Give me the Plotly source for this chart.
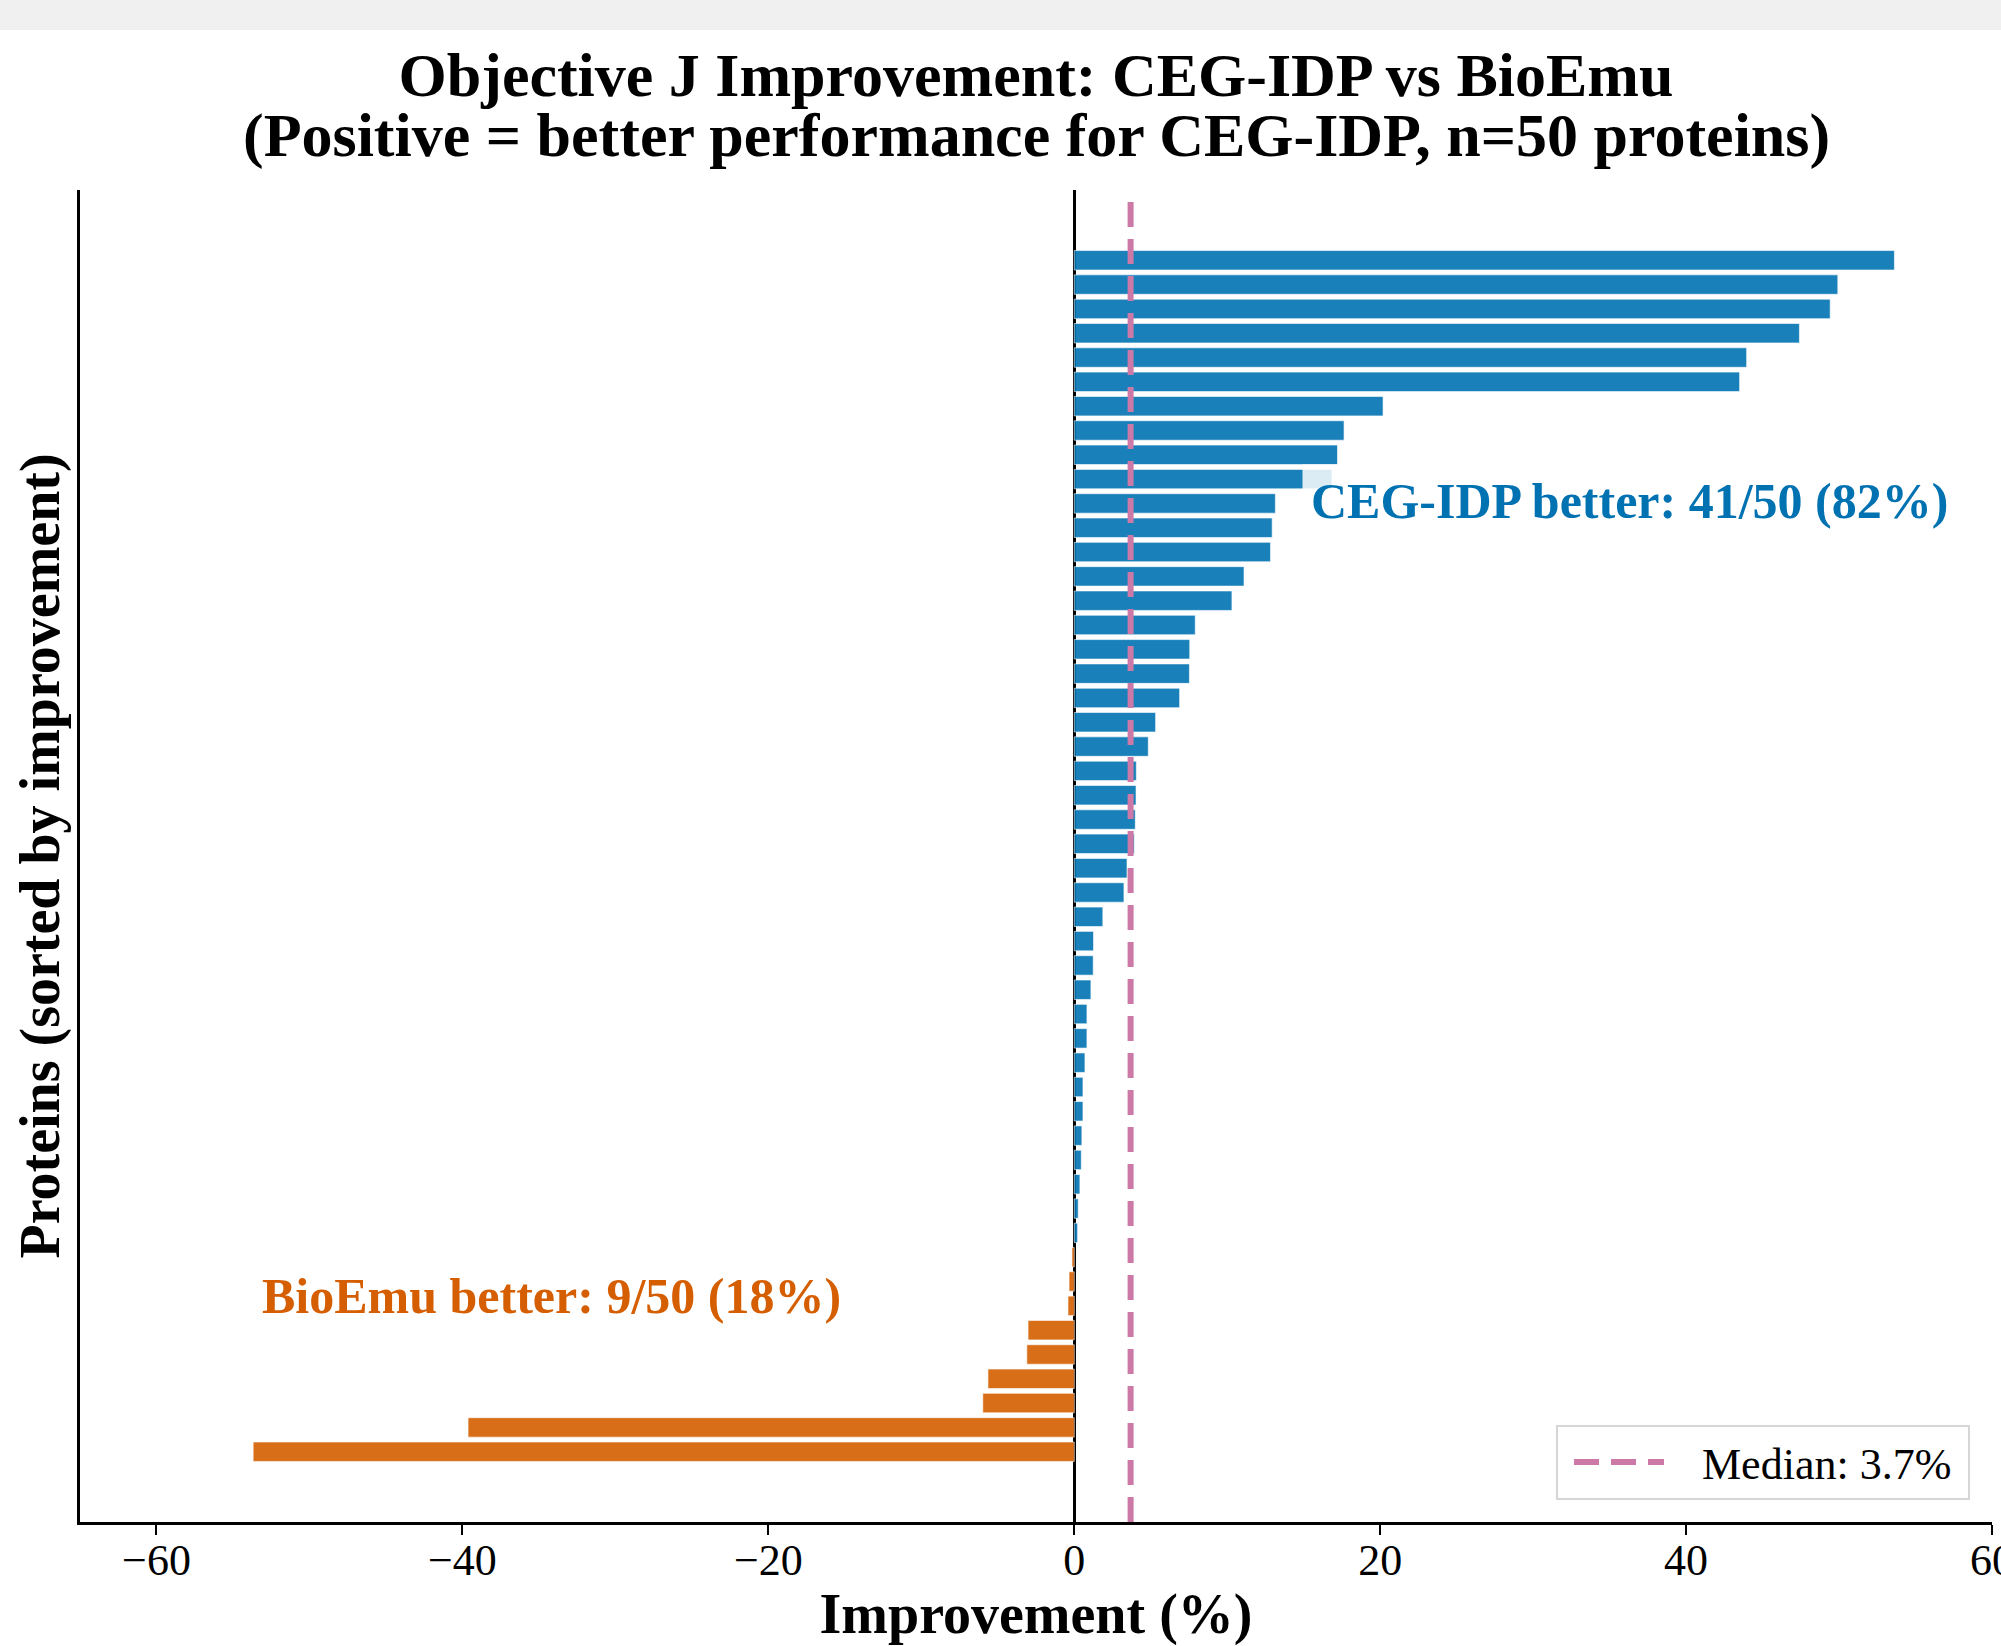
import numpy as np
import plotly.graph_objects as go

# ---- data (sorted ascending: bottom bar -> top bar) ----
negative_values = [-53.68, -39.63, -5.98, -5.64, -3.10, -3.02, -0.41, -0.34, -0.15]
positive_values = [0.22, 0.26, 0.37, 0.46, 0.50, 0.57, 0.57, 0.70, 0.83, 0.83,
                   1.09, 1.24, 1.26, 1.87, 3.25, 3.45, 3.92, 3.99, 4.04, 4.06,
                   4.84, 5.32, 6.89, 7.53, 7.55, 7.91, 10.31, 11.10, 12.83, 12.94,
                   13.15, 16.85, 17.21, 17.64, 20.19, 43.50, 43.96, 47.41, 49.42, 49.92,
                   53.62]
x_ticks = [-60, -40, -20, 0, 20, 40, 60]

title_line1 = "Objective J Improvement: CEG-IDP vs BioEmu"
title_line2 = "(Positive = better performance for CEG-IDP, n={n} proteins)"
x_label = "Improvement (%)"
y_label = "Proteins (sorted by improvement)"

BLUE = "#0072B2"
ORANGE = "#D55E00"
PINK = "#CC79A7"
FONT = "Liberation Serif"

values = np.array(negative_values + positive_values)
n = len(values)
positions = np.arange(n)
n_pos = int((values > 0).sum())
n_neg = int((values < 0).sum())
median = float(np.median(values))
bar_colors = ["rgba(0,114,178,0.9)" if v > 0 else "rgba(213,94,0,0.9)" for v in values]

span = (n - 1) + 0.8
y_lo = -0.4 - 0.05 * span
y_hi = (n - 1) + 0.4 + 0.05 * span

W, H = 2001, 1646
L, R, T, B = 80, 9, 190, 124
plot_h = H - T - B

NB = "\u00a0"

fig = go.Figure()
fig.add_trace(go.Bar(
    x=values, y=positions, orientation="h", width=0.8,
    marker=dict(color=bar_colors, line=dict(color="rgba(255,255,255,0.6)", width=1)),
    showlegend=False, hoverinfo="x",
))
fig.add_trace(go.Scatter(
    x=[median, median], y=[y_lo, y_hi], mode="lines",
    line=dict(color=PINK, width=6, dash="25px,12px"),
    name=NB * 3 + f"Median: {median:.1f}%" + NB,
))

def py(p):
    return (H - B - p) / plot_h

annotations = [
    dict(text=f"<b>{title_line2.format(n=n)}</b>", xref="paper", yref="paper",
         x=0.5, y=py(136), xanchor="center", yanchor="middle", showarrow=False,
         font=dict(family=FONT, size=62, color="black")),
    dict(text=f"<b>CEG-IDP better: {n_pos}/{n} ({100*n_pos/n:.0f}%)</b>", xref="x", yref="y",
         x=14.89, y=39.1, xanchor="left", yanchor="middle", showarrow=False,
         font=dict(family=FONT, size=50, color=BLUE),
         bgcolor="rgba(255,255,255,0.85)", borderpad=8),
    dict(text=f"<b>BioEmu better: {n_neg}/{n} ({100*n_neg/n:.0f}%)</b>", xref="x", yref="y",
         x=-53.69, y=6.4, xanchor="left", yanchor="middle", showarrow=False,
         font=dict(family=FONT, size=50, color=ORANGE),
         bgcolor="rgba(255,255,255,0.85)", borderpad=8),
]

shapes = [
    dict(type="rect", xref="paper", yref="paper", x0=-0.1, x1=1.1,
         y0=py(30), y1=py(-5), fillcolor="#f0f0f0", line=dict(width=0), layer="above"),
]

fig.update_layout(
    width=W, height=H,
    margin=dict(l=L, r=R, t=T, b=B, autoexpand=False),
    paper_bgcolor="white", plot_bgcolor="white",
    font=dict(family=FONT, color="black"),
    title=dict(text=f"<b>{title_line1}</b>", x=0.5, xref="paper",
               xanchor="center", yref="container", y=1 - 74 / H, yanchor="middle",
               font=dict(family=FONT, size=62, color="black")),
    bargap=0.2,
    annotations=annotations,
    shapes=shapes,
    showlegend=True,
    legend=dict(x=1 - 22 / (W - L - R), xanchor="right", y=22 / plot_h, yanchor="bottom",
                bgcolor="white", bordercolor="#d6d6d6", borderwidth=2, indentation=11,
                font=dict(family=FONT, size=44, color="black"), itemwidth=90),
)

fig.update_xaxes(
    range=[-65, 60], tickvals=x_ticks, ticks="outside", ticklen=10, tickwidth=2,
    tickcolor="black", showline=True, linecolor="black", linewidth=2.5,
    showgrid=False, zeroline=True, zerolinecolor="black", zerolinewidth=3,
    tickfont=dict(family=FONT, size=44, color="black"), automargin=False,
    ticklabeloverflow="allow", ticklabelstandoff=-13,
    title=dict(text=f"<b>{x_label}</b>", font=dict(family=FONT, size=56, color="black"), standoff=22),
)
fig.update_yaxes(
    range=[y_lo, y_hi], showticklabels=False, ticks="", showline=True,
    linecolor="black", linewidth=2.5, showgrid=False, zeroline=False, automargin=False,
    title=dict(text=f"<b>{y_label}</b>", font=dict(family=FONT, size=56, color="black"), standoff=0),
)

fig.write_html("out.html", config={"displayModeBar": False},
               post_script="document.body.style.margin='0';document.body.style.overflow='hidden';")
